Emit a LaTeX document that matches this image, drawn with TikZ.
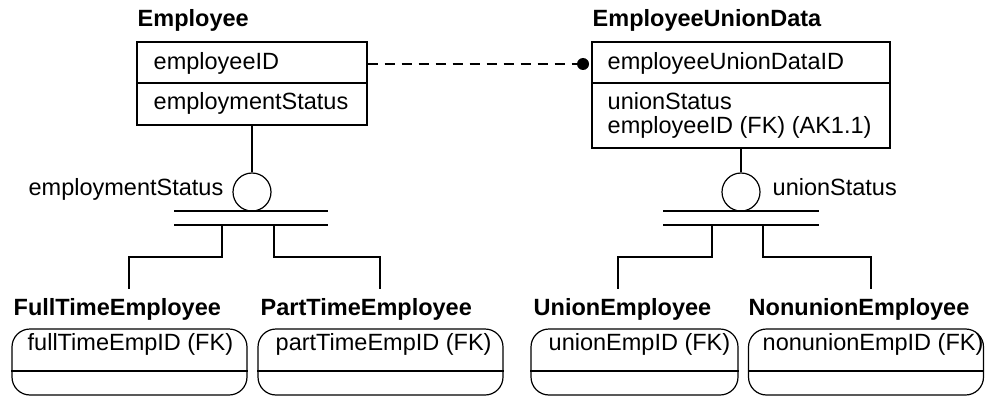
\documentclass[tikz,border=0pt]{standalone}
\usepackage{fontspec}
\setmainfont{Liberation Sans}
\begin{document}
\begin{tikzpicture}[x=1pt,y=-1pt,
  line width=1.4pt,
  every node/.style={font=\fontsize{23.5}{23}\selectfont, inner sep=0pt},
  title/.style={anchor=base west, font=\fontsize{23.5}{23}\selectfont\bfseries},
  attr/.style={anchor=base west, align=left},
  entity/.style={draw, rectangle, line width=1.4pt},
  dependent/.style={draw, rectangle, rounded corners=18pt, line width=1.2pt},
  disc/.style={draw, circle, minimum size=38pt, line width=1.2pt},
  link/.style={line width=1.4pt},
  nonid/.style={line width=1.4pt, dash pattern=on 10pt off 7pt}
]
\useasboundingbox (0,0) rectangle (985,396);

% ---- Employee ----
\node[title] (empT) at (137,27) {Employee};
\node[entity, minimum width=230pt, minimum height=83pt] (emp) at (252,83.5) {};
\draw (emp.west |- 0,83) -- (emp.east |- 0,83);
\node[attr] (empK) at (153,70) {employeeID};
\node[attr] (empA) at (153,110) {employmentStatus};

% ---- EmployeeUnionData ----
\node[title] (eudT) at (592,27) {EmployeeUnionData};
\node[entity, minimum width=298pt, minimum height=106pt] (eud) at (741,95) {};
\draw (eud.west |- 0,83) -- (eud.east |- 0,83);
\node[attr] (eudK) at (607,70) {employeeUnionDataID};
\node[attr] (eudA) at (607,110) {unionStatus};
\node[attr] (eudB) at (607,133) {employeeID (FK) (AK1.1)};

% ---- non-identifying relationship ----
\coordinate (relA) at (emp.east |- 0,64);
\coordinate (relB) at (583,64);
\draw[nonid] (relA) -- (relB);
\fill (relB) circle (6pt);

% ---- category: employmentStatus ----
\node[disc] (c1) at (252,192) {};
\draw[link] (emp.south) -- (c1.north);
\node[anchor=base east] (c1L) at (224,195) {employmentStatus};
\coordinate (b1l) at (174,211); \coordinate (b1r) at (328,211);
\coordinate (b2l) at (174,225); \coordinate (b2r) at (328,225);
\draw[link] (b1l) -- (b1r);
\draw[link] (b2l) -- (b2r);

% ---- category: unionStatus ----
\node[disc] (c2) at (741,192) {};
\draw[link] (eud.south) -- (c2.north);
\node[anchor=base west] (c2L) at (772,195) {unionStatus};
\coordinate (b3l) at (663,211); \coordinate (b3r) at (819,211);
\coordinate (b4l) at (663,225); \coordinate (b4r) at (819,225);
\draw[link] (b3l) -- (b3r);
\draw[link] (b4l) -- (b4r);

% ---- subtypes ----
\node[title] (ftT) at (13,315) {FullTimeEmployee};
\node[dependent, minimum width=235pt, minimum height=66pt] (ft) at (129.5,362) {};
\draw (ft.west |- 0,371) -- (ft.east |- 0,371);
\node[attr] (ftK) at (27,350) {fullTimeEmpID (FK)};

\node[title] (ptT) at (260,315) {PartTimeEmployee};
\node[dependent, minimum width=245pt, minimum height=66pt] (pt) at (380.5,362) {};
\draw (pt.west |- 0,371) -- (pt.east |- 0,371);
\node[attr] (ptK) at (275,350) {partTimeEmpID (FK)};

\node[title] (ueT) at (533,315) {UnionEmployee};
\node[dependent, minimum width=207pt, minimum height=66pt] (ue) at (634.5,362) {};
\draw (ue.west |- 0,371) -- (ue.east |- 0,371);
\node[attr] (ueK) at (548,350) {unionEmpID (FK)};

\node[title] (nuT) at (748,315) {NonunionEmployee};
\node[dependent, minimum width=235pt, minimum height=66pt] (nu) at (866,362) {};
\draw (nu.west |- 0,371) -- (nu.east |- 0,371);
\node[attr] (nuK) at (762,350) {nonunionEmpID (FK)};

% ---- subtype connectors ----
\coordinate (s1) at (222,225); \coordinate (t1) at (129,289);
\coordinate (s2) at (274,225); \coordinate (t2) at (380,289);
\coordinate (s3) at (712,225); \coordinate (t3) at (618,289);
\coordinate (s4) at (763,225); \coordinate (t4) at (871,289);
\draw[link] (s1) -- ++(0,32) -| (t1);
\draw[link] (s2) -- ++(0,32) -| (t2);
\draw[link] (s3) -- ++(0,32) -| (t3);
\draw[link] (s4) -- ++(0,32) -| (t4);
\end{tikzpicture}
\end{document}
